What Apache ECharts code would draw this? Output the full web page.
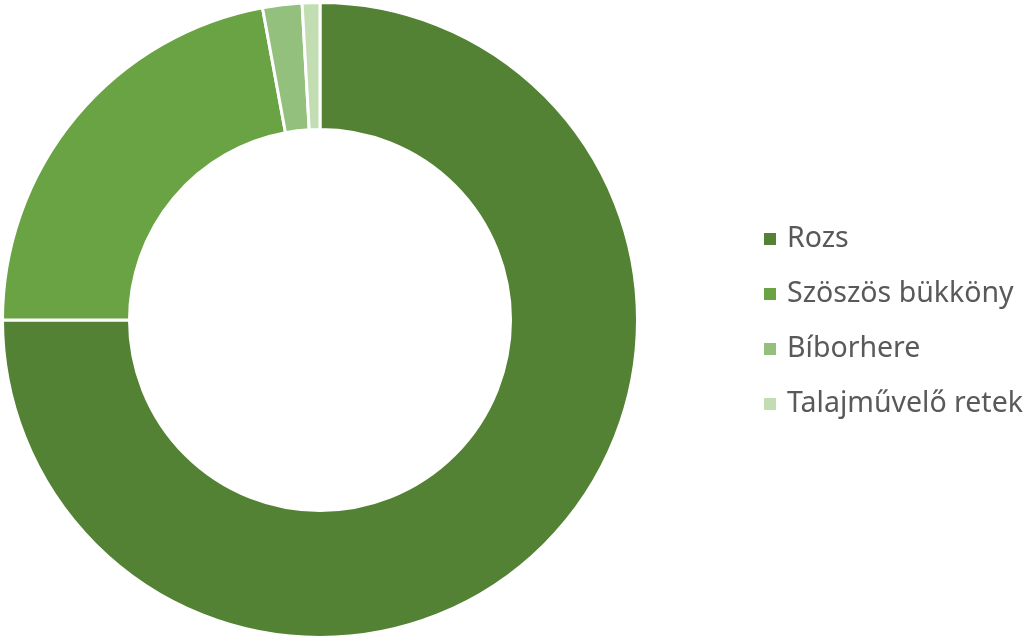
<!DOCTYPE html>
<html>
<head>
<meta charset="utf-8">
<style>
  html, body { margin: 0; padding: 0; background: #ffffff; }
  #chart { width: 1024px; height: 640px; }
</style>
<script src="https://cdn.jsdelivr.net/npm/echarts@6/dist/echarts.min.js"></script>
</head>
<body>
<div id="chart"></div>
<script>
// Cover crop mix shares (%)
const categories = ['Rozs', 'Szöszös bükköny', 'Bíborhere', 'Talajművelő retek'];
const shares = [75.0, 22.1, 2.0, 0.9];
const colors = ['#548235', '#6aa343', '#93c07c', '#c3ddb2'];

const chart = echarts.init(document.getElementById('chart'), null, { renderer: 'canvas' });

chart.setOption({
  animation: false,
  color: colors,
  legend: {
    orient: 'vertical',
    left: 762,
    top: 224,
    padding: 0,
    icon: 'rect',
    itemWidth: 14,
    itemHeight: 14,
    itemGap: 25,
    textStyle: {
      color: '#595959',
      fontSize: 28.5,
      lineHeight: 30,
      fontFamily: 'Noto Sans',
      padding: [0, 0, 0, 5]
    },
    data: categories
  },
  series: [{
    type: 'pie',
    center: [320, 320],
    radius: [190.5, 317.5],
    startAngle: 90,
    clockwise: true,
    label: { show: false },
    labelLine: { show: false },
    emphasis: { disabled: true },
    itemStyle: { borderColor: '#ffffff', borderWidth: 3 },
    data: categories.map((name, i) => ({ name, value: shares[i] }))
  }]
});
</script>
</body>
</html>
